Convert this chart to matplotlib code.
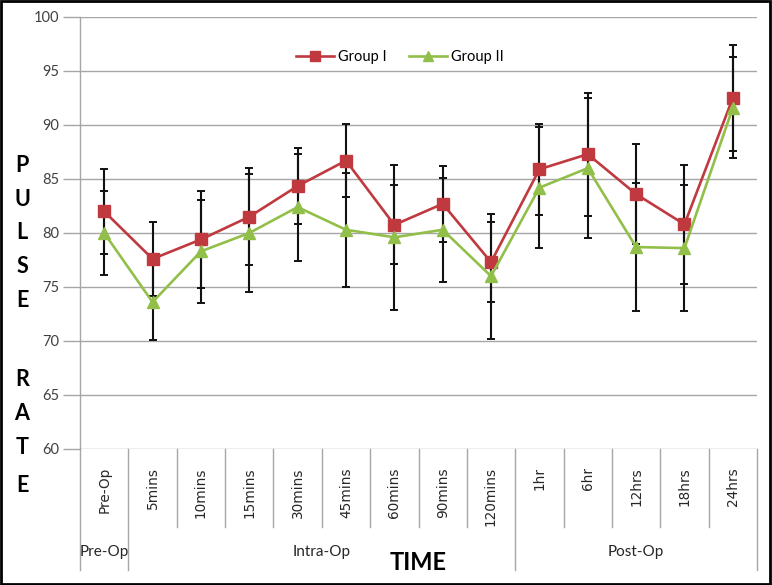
import matplotlib
matplotlib.use('Agg')
import matplotlib.pyplot as plt
from matplotlib.patches import Rectangle
from matplotlib.lines import Line2D
import numpy as np

labels = ['Pre-Op', '5mins', '10mins', '15mins', '30mins', '45mins', '60mins',
          '90mins', '120mins', '1hr', '6hr', '12hrs', '18hrs', '24hrs']
group1 = [82.0, 77.6, 79.4, 81.5, 84.35, 86.7, 80.75, 82.7, 77.3, 85.9, 87.3, 83.6, 80.8, 92.5]
group1_sd = [3.9, 3.4, 4.5, 4.5, 3.5, 3.4, 3.65, 3.5, 3.7, 4.2, 5.7, 4.6, 5.5, 4.9]
group2 = [80.0, 73.6, 78.3, 80.0, 82.4, 80.3, 79.6, 80.3, 76.0, 84.2, 86.0, 78.7, 78.6, 91.6]
group2_sd = [3.9, 3.5, 4.8, 5.5, 4.95, 5.3, 6.7, 4.8, 5.8, 5.6, 6.5, 5.9, 5.8, 4.7]
phases = ['Pre-Op', 'Intra-Op', 'Post-Op']
phase_sizes = [1, 8, 5]

red = '#C0393F'
green = '#92BF4A'

W, H = 772, 585
fig = plt.figure(figsize=(W / 100, H / 100), dpi=100)
ax = fig.add_axes([80 / W, 1 - 449 / H, (757 - 80) / W, (449 - 17) / H])

x = np.arange(len(labels))

# error bars first, lines and markers on top
for vals, sd in [(group1, group1_sd), (group2, group2_sd)]:
    ax.errorbar(x, vals, yerr=sd, fmt='none', ecolor='#111111', elinewidth=1.5,
                capsize=2.8, capthick=1.4, zorder=2)
ax.plot(x, group1, color=red, lw=1.9, marker='s', ms=8.5, mec=red, mfc=red, zorder=3)
ax.plot(x, group2, color=green, lw=1.9, marker='^', ms=9, mec=green, mfc=green, zorder=3)

ax.set_xlim(-0.5, len(labels) - 0.5)
ax.set_ylim(60, 100)
ax.set_yticks(range(60, 101, 5))
ax.yaxis.grid(True, color='#A6A6A6', lw=1.0)
ax.set_axisbelow(True)
for s in ['top', 'right', 'bottom']:
    ax.spines[s].set_visible(False)
ax.spines['left'].set_color('#A6A6A6')
ax.spines['left'].set_linewidth(1.0)
ax.tick_params(axis='y', length=12, width=1.0, color='#A6A6A6', pad=3,
               labelsize=10.5, labelcolor='#404040')
for t in ax.get_yticklabels():
    t.set_family('Lato')

ax.set_xticks(x)
ax.set_xticklabels(labels, rotation=90, fontsize=9.8, family='DejaVu Sans', color='#262626')
ax.tick_params(axis='x', length=0, pad=13)

# category table lines below the plot
to_ax = lambda py: (449 - py) / (449 - 17)
bounds = np.cumsum([0] + phase_sizes) - 0.5
for b in np.arange(-0.5, len(labels)):
    long = np.any(np.isclose(b, bounds))
    ax.plot([b, b], [0, to_ax(570 if long else 527)], color='#A6A6A6', lw=1.0,
            transform=ax.get_xaxis_transform(), clip_on=False)

for name, lo, hi in zip(phases, bounds[:-1], bounds[1:]):
    ax.text((lo + hi) / 2, to_ax(552), name, transform=ax.get_xaxis_transform(),
            ha='center', va='center', fontsize=11, family='Lato', color='#262626')

fig.text(418 / W, 1 - 563 / H, 'TIME', ha='center', va='center', fontsize=17,
         fontweight='bold', family='Lato')

ylab = [('P', 166), ('U', 200), ('L', 233), ('S', 267), ('E', 301),
        ('R', 379), ('A', 413), ('T', 448), ('E', 485)]
for ch, py in ylab:
    fig.text(22 / W, 1 - py / H, ch, ha='center', va='center', fontsize=15.5,
             fontweight='bold', family='Lato')

handles = [Line2D([], [], color=red, lw=1.9, marker='s', ms=7),
           Line2D([], [], color=green, lw=1.9, marker='^', ms=7)]
fig.legend(handles, ['Group I', 'Group II'], loc='center', bbox_to_anchor=(400 / W, 1 - 57 / H),
           ncol=2, frameon=False, prop={'family': 'Lato', 'size': 10.5},
           handlelength=2.6, columnspacing=1.5, handletextpad=0.3)

fig.add_artist(Rectangle((0.001, 0.001), 0.997, 0.997, transform=fig.transFigure,
                         fill=False, ec='black', lw=2))

fig.savefig('out.png', dpi=100)
